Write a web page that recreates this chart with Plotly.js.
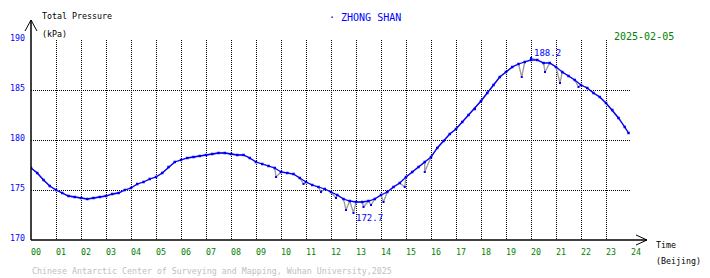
<!DOCTYPE html>
<html><head><meta charset="utf-8">
<script src="https://cdn.plot.ly/plotly-3.0.1.min.js"></script>
<style>html,body{margin:0;padding:0;background:#fff}#chart{width:710px;height:278px}</style>
</head><body><div id="chart"></div>
<script>
// ---- data ----
const hours = [0,0.25,0.5,0.75,1,1.25,1.5,1.75,2,2.25,2.5,2.75,3,3.25,3.5,3.75,4,4.25,4.5,4.75,5,5.25,5.5,5.75,6,6.25,6.5,6.75,7,7.25,7.5,7.75,8,8.25,8.5,8.75,9,9.25,9.5,9.75,10,10.25,10.5,10.75,11,11.25,11.5,11.75,12,12.25,12.5,12.75,13,13.25,13.5,13.75,14,14.25,14.5,14.75,15,15.25,15.5,15.75,16,16.25,16.5,16.75,17,17.25,17.5,17.75,18,18.25,18.5,18.75,19,19.25,19.5,19.75,20,20.25,20.5,20.75,21,21.25,21.5,21.75,22,22.25,22.5,22.75,23,23.25,23.5,23.75,23.9];
const pressure = [177.2,176.7,176.0,175.4,175.0,174.7,174.4,174.3,174.2,174.1,174.2,174.3,174.4,174.6,174.7,175.0,175.2,175.6,175.8,176.1,176.3,176.7,177.3,177.8,178.0,178.2,178.3,178.4,178.5,178.6,178.7,178.7,178.6,178.5,178.5,178.2,177.8,177.6,177.4,177.2,176.8,176.7,176.6,176.2,175.8,175.5,175.3,175.1,174.8,174.5,174.1,173.9,173.8,173.8,173.9,174.1,174.5,174.8,175.3,175.7,176.3,176.8,177.3,177.8,178.3,179.2,179.9,180.6,181.1,181.8,182.5,183.1,183.9,184.7,185.5,186.3,186.8,187.3,187.6,187.8,188.0,188.0,187.7,187.7,187.3,186.8,186.4,186.0,185.5,185.2,184.7,184.3,183.7,183.0,182.2,181.3,180.7];
// noisy excursions (grey spikes)
const spikeHours = [9.8,10.9,11.6,12.2,12.6,12.9,13.3,13.6,14.1,14.95,15.75,19.63,20.0,20.56,21.16,21.9];
const spikeValues = [176.3,175.6,174.8,174.2,173.0,172.7,173.3,173.5,173.8,175.3,176.8,186.3,188.2,186.8,185.7,185.3];
const maxValue = 188.2, maxHour = 20.05;
const minValue = 172.7, minHour = 12.9;
const xTickVals = [0,1,2,3,4,5,6,7,8,9,10,11,12,13,14,15,16,17,18,19,20,21,22,23,24];
const xTickText = ["00","01","02","03","04","05","06","07","08","09","10","11","12","13","14","15","16","17","18","19","20","21","22","23","24"];
const yTickVals = [170,175,180,185,190];
const stationName = "ZHONG SHAN";
const dateText = "2025-02-05";

// merge for grey connecting line
const merged = hours.map((h,i)=>[h,pressure[i]]).concat(spikeHours.map((h,i)=>[h,spikeValues[i]])).sort((a,b)=>a[0]-b[0]);

const FONT = "DejaVu Sans Mono, monospace";
const L=31, T=40, W=600, H=200;
const px = x => (x-L)/W;
const py = y => (T+H-y)/H;

const traces = [
  {x: merged.map(p=>p[0]), y: merged.map(p=>p[1]), mode:'lines', line:{color:'#9a9a9a', width:1.3}, hoverinfo:'skip'},
  {x: hours, y: pressure, mode:'lines+markers', line:{color:'#0000ff', width:1.3}, marker:{color:'#0000ff', size:2.5, symbol:'square'}, hoverinfo:'skip'},
  {x: spikeHours, y: spikeValues, mode:'markers', marker:{color:'#0000ff', size:2, symbol:'square'}, hoverinfo:'skip'}
];

function txt(text, x, y, color, size, anchor){
  return {text, xref:'paper', yref:'paper', x:px(x), y:py(y), xanchor:anchor||'left', yanchor:'middle',
    showarrow:false, font:{family:FONT, size:size||8.3, color:color||'#000'}};
}

const annotations = [
  txt('Total Pressure', 40, 16),
  txt('(kPa)', 40, 34),
  txt('· ' + stationName, 327, 17, '#0000ff', 10),
  txt(dateText, 612, 36, '#008000', 10),
  txt('Time', 654, 245),
  txt('(Beijing)', 654, 261),
  txt('Chinese Antarctic Center of Surveying and Mapping, Wuhan University,2025', 30, 271, '#c0c0c0', 8.3),
  {text: maxValue.toFixed(1), x:maxHour, y:maxValue, xref:'x', yref:'y', xanchor:'left', yanchor:'bottom', showarrow:false, yshift:-2, font:{family:FONT, size:9, color:'#0000ff'}},
  {text: minValue.toFixed(1), x:minHour, y:minValue, xref:'x', yref:'y', xanchor:'left', yanchor:'top', showarrow:false, yshift:2, font:{family:FONT, size:9, color:'#0000ff'}}
];

const axLine = {type:'line', xref:'paper', yref:'paper', line:{color:'#000', width:1.5}};
const shapes = [
  Object.assign({}, axLine, {x0:0, y0:0, x1:0, y1:py(20)}),
  Object.assign({}, axLine, {x0:px(25), y0:py(31), x1:px(31), y1:py(20), line:{color:'#000',width:1}}),
  Object.assign({}, axLine, {x0:px(37), y0:py(31), x1:px(31), y1:py(20), line:{color:'#000',width:1}}),
  Object.assign({}, axLine, {x0:0, y0:0, x1:px(647), y1:0}),
  Object.assign({}, axLine, {x0:px(636), y0:py(235), x1:px(647), y1:py(240), line:{color:'#000',width:1}}),
  Object.assign({}, axLine, {x0:px(636), y0:py(245), x1:px(647), y1:py(240), line:{color:'#000',width:1}})
];

const layout = {
  width:710, height:278,
  margin:{l:L, r:710-L-W, t:T, b:278-T-H, pad:0},
  paper_bgcolor:'#fff', plot_bgcolor:'#fff',
  showlegend:false,
  font:{family:FONT, size:8.3},
  xaxis:{range:[0,24], tickvals:xTickVals, ticktext:xTickText, showgrid:true, gridcolor:'#000', griddash:'1px,1px', gridwidth:1,
    zeroline:false, showline:false, ticks:'', tickfont:{family:FONT, size:8.3, color:'#008000'}, ticklabelshift:5, ticklabelstandoff:6},
  yaxis:{range:[170,190], tickvals:yTickVals, showgrid:true, gridcolor:'#000', griddash:'1px,1px', gridwidth:1,
    zeroline:false, showline:false, ticks:'', tickfont:{family:FONT, size:8.3, color:'#0000ff'}, ticklabelstandoff:5, ticklabelshift:-2},
  annotations, shapes
};
Plotly.newPlot('chart', traces, layout, {staticPlot:true, displayModeBar:false});
</script></body></html>
